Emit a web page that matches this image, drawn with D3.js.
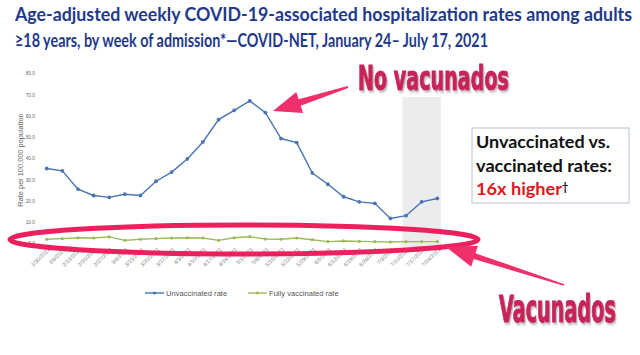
<!DOCTYPE html>
<html><head><meta charset="utf-8">
<script src="https://cdn.jsdelivr.net/npm/d3@7"></script>
<style>body{margin:0;background:#fff}svg{display:block}</style>
</head><body>
<svg id="c" width="640" height="355"></svg>
<script>
const dates = ["1/30/2021","2/6/2021","2/13/2021","2/20/2021","2/27/2021","3/6/2021","3/13/2021","3/20/2021","3/27/2021","4/3/2021","4/10/2021","4/17/2021","4/24/2021","5/1/2021","5/8/2021","5/15/2021","5/22/2021","5/29/2021","6/5/2021","6/12/2021","6/19/2021","6/26/2021","7/3/2021","7/10/2021","7/17/2021","7/24/2021"];
const unvaccinated = [35.2,34.1,25.5,22.5,21.6,23.1,22.5,29.2,33.5,39.7,47.7,58.2,62.6,67.0,61.5,49.3,47.4,33.1,27.8,21.9,19.5,18.8,11.7,13.0,19.5,21.1];
const vaccinated = [1.9,2.2,2.6,2.5,3.0,1.4,1.9,2.2,2.5,2.6,2.5,1.4,2.6,3.1,2.0,1.9,2.5,1.7,0.8,1.1,0.9,0.8,0.6,0.8,0.8,0.8];
const yTicks = [0,10,20,30,40,50,60,70,80];
const shadedWeeks = ["7/10/2021","7/24/2021"];
const titleLines = ["Age-adjusted weekly COVID-19-associated hospitalization rates among adults","\u226518 years, by week of admission*\u2014COVID-NET, January 24\u2013 July 17, 2021"];
const seriesNames = ["Unvaccinated rate","Fully vaccinated rate"];

const svg = d3.select("#c");
const defs = svg.append("defs");
const f = defs.append("filter").attr("id","sh").attr("x","-10%").attr("y","-20%").attr("width","130%").attr("height","150%");
f.append("feDropShadow").attr("dx",2).attr("dy",2).attr("stdDeviation",0.8).attr("flood-color","#b8b0b3").attr("flood-opacity",0.9);

const x = d3.scalePoint().domain(dates).range([46.7, 437.3]);
const y = d3.scaleLinear().domain([0,80]).range([243.3, 73.3]);
const blue = "#4a74b4", green = "#9bbb59";

// shaded region
const step = x.step();
svg.append("rect").attr("x", x(shadedWeeks[0]) - step*0.23).attr("y", 97)
  .attr("width", x(shadedWeeks[1]) - x(shadedWeeks[0]) + step*0.46).attr("height", 150)
  .attr("fill", "#ececec");

// title
const title = svg.append("g").attr("font-family","Lato, 'Open Sans', sans-serif").attr("font-weight","bold").attr("fill","#1f3a8a").attr("font-size",18);
title.append("text").attr("x",15).attr("y",21).attr("textLength",617).attr("lengthAdjust","spacingAndGlyphs").text(titleLines[0]);
title.append("text").attr("x",15).attr("y",47).attr("textLength",473).attr("lengthAdjust","spacingAndGlyphs").text(titleLines[1]);

// y axis
const yAxis = svg.append("g").attr("transform","translate(35,0)")
  .call(d3.axisLeft(y).tickValues(yTicks).tickFormat(d3.format(".1f")).tickSize(0).tickPadding(0));
yAxis.select(".domain").remove();
yAxis.selectAll("text").attr("font-family","Liberation Sans, Arial, sans-serif").attr("font-size",4.8).attr("fill","#666");
svg.append("text").attr("transform","translate(23,160) rotate(-90)").attr("text-anchor","middle")
  .attr("font-family","Liberation Sans, Arial, sans-serif").attr("font-size",7.4).attr("fill","#666").text("Rate per 100,000 population");

// x axis
const xAxis = svg.append("g").attr("transform","translate(0,247)")
  .call(d3.axisBottom(x).tickSize(0).tickPadding(0));
xAxis.select(".domain").remove();
xAxis.selectAll("text").attr("font-family","Liberation Sans, Arial, sans-serif").attr("font-size",5.4).attr("fill","#777")
  .attr("text-anchor","end").attr("dy",0).attr("transform","translate(3,3) rotate(-45)");

// lines
const line = d3.line().x((d,i)=>x(dates[i])).y(d=>y(d));
function drawSeries(vals, color, r){
  svg.append("path").datum(vals).attr("d",line).attr("fill","none").attr("stroke",color).attr("stroke-width",1.4);
  svg.append("g").selectAll("circle").data(vals).join("circle")
    .attr("cx",(d,i)=>x(dates[i])).attr("cy",d=>y(d)).attr("r",r).attr("fill",color);
}
drawSeries(unvaccinated, blue, 1.9);
drawSeries(vaccinated, green, 1.6);

// legend
const leg = svg.append("g").attr("font-family","Liberation Sans, Arial, sans-serif").attr("font-size",7.6).attr("fill","#555");
[[145,blue,seriesNames[0]],[248,green,seriesNames[1]]].forEach(([lx,c,t])=>{
  leg.append("line").attr("x1",lx).attr("x2",lx+19).attr("y1",293).attr("y2",293).attr("stroke",c).attr("stroke-width",1.4);
  leg.append("circle").attr("cx",lx+9.5).attr("cy",293).attr("r",1.5).attr("fill",c);
  leg.append("text").attr("x",lx+21).attr("y",295.7).text(t);
});

// info box
svg.append("rect").attr("x",472).attr("y",128).attr("width",157).attr("height",75).attr("fill","#fff").attr("stroke","#b4c2d2").attr("stroke-width",1);
const box = svg.append("g").attr("font-family","Lato, 'Open Sans', sans-serif").attr("font-weight","bold").attr("font-size",17).attr("fill","#111");
box.append("text").attr("x",476).attr("y",148).attr("textLength",134).attr("lengthAdjust","spacingAndGlyphs").text("Unvaccinated vs.");
box.append("text").attr("x",476).attr("y",171.5).attr("textLength",136).attr("lengthAdjust","spacingAndGlyphs").text("vaccinated rates:");
const t3 = box.append("text").attr("x",476).attr("y",194.5);
t3.append("tspan").attr("fill","#e3141c").attr("textLength",86).attr("lengthAdjust","spacingAndGlyphs").text("16x higher");
t3.append("tspan").attr("font-size",11).attr("dy",-4).text("\u2020");

// ellipse
const pink = "#ec1f5f";
svg.append("ellipse").attr("cx",244).attr("cy",239.5).attr("rx",234).attr("ry",14.5)
  .attr("fill","none").attr("stroke",pink).attr("stroke-width",5);

// arrows
function arrow(x1,y1,x2,y2,head,w,tw){
  const a = Math.atan2(y2-y1,x2-x1), px=-Math.sin(a), py=Math.cos(a);
  const bx = x2 - Math.cos(a)*head, by = y2 - Math.sin(a)*head;
  const pts = [[x1+px*tw*0.3,y1+py*tw*0.3],[bx+px*tw,by+py*tw],[bx+px*w,by+py*w],[x2,y2],[bx-px*w,by-py*w],[bx-px*tw,by-py*tw],[x1-px*tw*0.3,y1-py*tw*0.3]];
  svg.append("path").attr("d","M"+pts.map(p=>p.join(",")).join("L")+"Z").attr("fill","#f0306a");
}
arrow(348,87,273,111,28,11,3.5);
arrow(564,285,446,247,30,11,3);

// annotation text (scaled horizontally to fit measured width)
function label(t,x0,y0,len,fs){
  const el = svg.append("text").attr("x",0).attr("y",0)
    .attr("font-family","'Liberation Sans Narrow','DejaVu Sans Condensed','Liberation Sans',sans-serif").attr("font-weight","bold").attr("font-size",fs)
    .attr("fill","#c8215a").attr("stroke","#c8215a").attr("stroke-width",1.1).attr("filter","url(#sh)").text(t);
  const nat = el.node().getComputedTextLength();
  el.attr("transform",`translate(${x0},${y0}) scale(${len/nat},1)`);
}
label("No vacunados",358,90,151,34);
label("Vacunados",499,322,117,37);
</script>
</body></html>
